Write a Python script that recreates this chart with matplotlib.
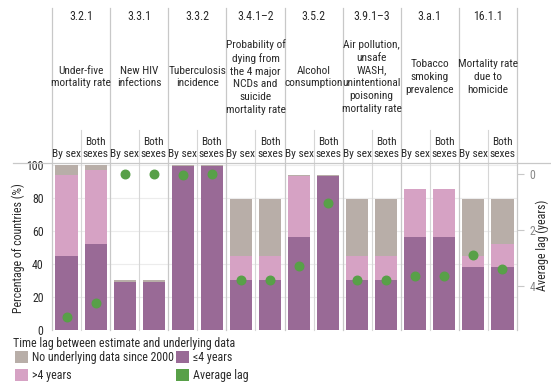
import matplotlib
matplotlib.use("Agg")
import matplotlib.pyplot as plt
from matplotlib.lines import Line2D
from matplotlib.patches import Rectangle
from matplotlib.transforms import blended_transform_factory

plt.rcParams["font.family"] = ["Roboto Condensed", "DejaVu Sans"]

codes = ["3.2.1", "3.3.1", "3.3.2", "3.4.1–2", "3.5.2", "3.9.1–3", "3.a.1", "16.1.1"]
titles = ["Under-five\nmortality rate", "New HIV\ninfections", "Tuberculosis\nincidence",
          "Probability of\ndying from\nthe 4 major\nNCDs and\nsuicide\nmortality rate",
          "Alcohol\nconsumption",
          "Air pollution,\nunsafe\nWASH,\nunintentional\npoisoning\nmortality rate",
          "Tobacco\nsmoking\nprevalence", "Mortality rate\ndue to\nhomicide"]
sub_labels = ["By sex", "Both\nsexes"]

# percentage of countries, one value per bar (by sex, both sexes for each indicator)
le4 = [45, 52, 29, 29, 99, 99, 30, 30, 56, 93, 30, 30, 56, 56, 38, 38]
gt4 = [48.5, 44.5, 0, 0, 0, 0, 15, 15, 37, 0, 15, 15, 29, 29, 7, 14]
no_data = [6.5, 3.5, 1, 1, 1, 1, 34, 34, 0.6, 0.6, 34, 34, 0.4, 0.4, 34, 27]
avg_lag = [5.1, 4.6, 0.0, 0.0, 0.05, 0.0, 3.8, 3.8, 3.3, 1.05, 3.8, 3.8, 3.65, 3.65, 2.9, 3.4]

c_gray = "#b8aea8"
c_pink = "#d6a2c4"
c_purple = "#996a96"
c_green = "#58a048"
c_line = "#c8c8c8"
c_text = "#2a2a2a"
fs = 8.6
fs_head = 8.2

W, H = 551, 383
fig = plt.figure(figsize=(W / 100, H / 100), dpi=100)

ax_left, ax_right, ax_bot, ax_top = 52, 517, 330, 163
ax = fig.add_axes([ax_left / W, 1 - ax_bot / H, (ax_right - ax_left) / W, (ax_bot - ax_top) / H])


def ay(py):
    return (ax_bot - py) / (ax_bot - ax_top)


n = len(le4)
x = [i + 0.5 for i in range(n)]
bot2 = [a + b for a, b in zip(le4, gt4)]
ax.bar(x, le4, width=0.76, color=c_purple, zorder=2)
ax.bar(x, gt4, bottom=le4, width=0.76, color=c_pink, zorder=2)
ax.bar(x, no_data, bottom=bot2, width=0.76, color=c_gray, zorder=2)
ax.set_xlim(0, n)
ax.set_ylim(0, 101)
ax.set_yticks([0, 20, 40, 60, 80, 100])
ax.yaxis.grid(True, color="#ececec", linewidth=0.8, zorder=0)
ax.set_xticks([])
ax.tick_params(axis="y", length=0, labelsize=fs, colors=c_text, pad=6)
for s in ax.spines.values():
    s.set_visible(False)
fig.text(18 / W, 1 - 248 / H, "Percentage of countries (%)", rotation=90, ha="center", va="center",
         fontsize=fs, color=c_text)

ax2 = ax.twinx()
ax2.scatter(x, avg_lag, s=38, color=c_green, zorder=4, clip_on=False)
ax2.set_ylim(5.57, -0.39)
ax2.set_yticks([0, 2, 4])
ax2.tick_params(axis="y", length=5, width=0.8, color=c_line, labelsize=fs,
                labelcolor="#888888", pad=4)
for s in ax2.spines.values():
    s.set_visible(False)
fig.text(542 / W, 1 - 245 / H, "Average lag (years)", rotation=90, ha="center", va="center",
         fontsize=fs, color=c_text)

# header area and column dividers
tr = blended_transform_factory(ax.transData, ax.transAxes)
for k in range(0, n + 1, 2):
    ax.add_line(Line2D([k, k], [0, ay(8)], transform=tr, color=c_line, lw=0.9, clip_on=False, zorder=3))
for k in range(1, n, 2):
    ax.add_line(Line2D([k, k], [0, ay(130)], transform=tr, color="#d6d6d6", lw=0.8, clip_on=False, zorder=3))
fig.add_artist(Line2D([13 / W, 1], [1 - ax_top / H, 1 - ax_top / H], transform=fig.transFigure,
                      color=c_line, lw=0.9))

for i, (code, title) in enumerate(zip(codes, titles)):
    cx = 2 * i + 1
    ax.text(cx, ay(17), code, transform=tr, ha="center", va="center", fontsize=fs, color=c_text)
    ax.text(cx, ay(77), title, transform=tr, ha="center", va="center", fontsize=fs_head,
            color=c_text, linespacing=1.35)
    for j, lab in enumerate(sub_labels):
        ax.text(2 * i + j + 0.5, ay(159), lab, transform=tr, ha="center", va="bottom",
                fontsize=fs_head, color=c_text, linespacing=1.3)

# legend
fig.text(13 / W, 1 - 343 / H, "Time lag between estimate and underlying data", fontsize=fs,
         color=c_text, va="center")
legend_items = [(15, 357, c_gray, "No underlying data since 2000"), (176, 357, c_purple, "≤4 years"),
                (15, 375, c_pink, ">4 years"), (176, 375, c_green, "Average lag")]
for px, py, col, lab in legend_items:
    fig.add_artist(Rectangle((px / W, 1 - (py + 6) / H), 13 / W, 12 / H, transform=fig.transFigure,
                             color=col, lw=0))
    fig.text((px + 17) / W, 1 - py / H, lab, fontsize=fs, color=c_text, va="center")

fig.savefig("out.png", dpi=100)
